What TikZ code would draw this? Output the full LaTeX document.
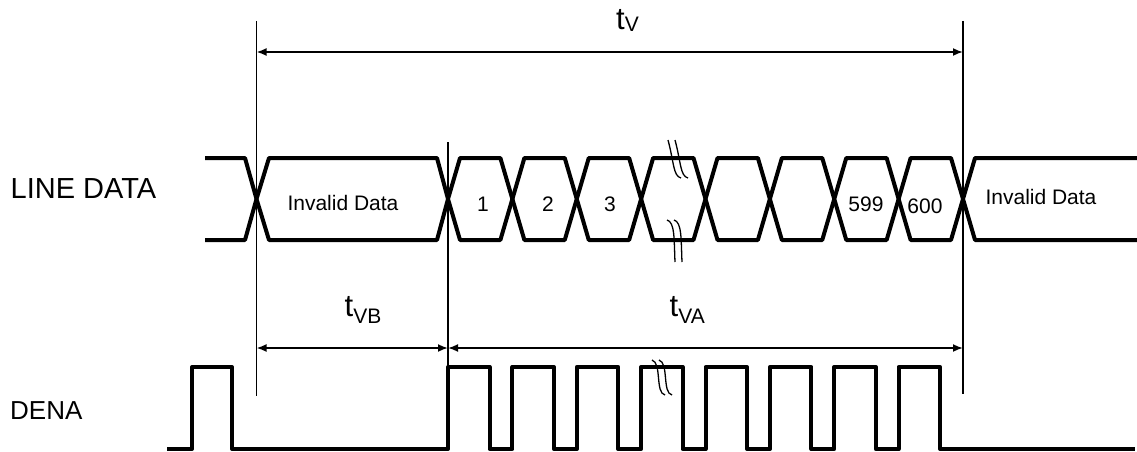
\documentclass[tikz,border=0pt]{standalone}
\usepackage{fontspec}
\setmainfont{Liberation Sans}
\usetikzlibrary{arrows.meta}
\begin{document}
\begin{tikzpicture}[x=1pt,y=-1pt,
  sig/.style={line width=4pt, line join=round},
  guide/.style={line width=1.6pt},
  dimarrow/.style={line width=1.8pt, {Latex[length=10pt,width=8pt]}-{Latex[length=10pt,width=8pt]}},
  brk/.style={line width=1.3pt},
  lbl/.style={inner sep=0pt, anchor=base, font=\fontsize{21}{24}\selectfont},
  signame/.style={inner sep=0pt, anchor=base west},
  tlabel/.style={inner sep=0pt, anchor=base west}]
\useasboundingbox (0,0) rectangle (1137,452);

% signal names
\node[signame] (linedata) at (10.5,198) {\fontsize{29}{33}\selectfont LINE DATA};
\node[signame] (dena) at (10,419) {\fontsize{26}{30}\selectfont DENA};

% guide lines
\coordinate (g1t) at (256.5,21);  \coordinate (g1b) at (256.5,396);
\coordinate (g2t) at (448,142);   \coordinate (g2b) at (448,367);
\coordinate (g3t) at (963,21);    \coordinate (g3b) at (963,394);
\draw[guide] (g1t) -- (g1b);
\draw[guide] (g2t) -- (g2b);
\draw[guide] (g3t) -- (g3b);

% dimension arrows
\coordinate (a1) at (256.5,52); \coordinate (a2) at (963,52);
\coordinate (b1) at (256.5,348); \coordinate (b2) at (448,348); \coordinate (b3) at (963,348);
\draw[dimarrow] (a1) -- (a2);
\draw[dimarrow] (b1) -- (b2);
\draw[dimarrow] (b2) -- (b3);

\node[tlabel] (tv) at (616,30) {\fontsize{31}{34}\selectfont t\raisebox{-2pt}{\fontsize{21}{24}\selectfont V}};
\node[tlabel] (tvb) at (344.5,316) {\fontsize{31}{34}\selectfont t\raisebox{-7pt}{\fontsize{21}{24}\selectfont VB}};
\node[tlabel] (tva) at (669.5,316) {\fontsize{31}{34}\selectfont t\raisebox{-7pt}{\fontsize{21}{24}\selectfont VA}};

% LINE DATA waveform
\draw[sig] (205,158) -- (245,158) -- (256.5,199) -- (245,240) -- (205,240);
\draw[sig] (256.5,199) -- (269,158) -- (437,158) -- (448,199) -- (437,240) -- (269,240) -- cycle;
\foreach \k in {0,...,7} {
  \pgfmathsetmacro{\xa}{448+64.375*\k}
  \pgfmathsetmacro{\xb}{448+64.375*(\k+1)}
  \draw[sig] (\xa,199) -- ({\xa+12},158) -- ({\xb-12},158) -- (\xb,199) -- ({\xb-12},240) -- ({\xa+12},240) -- cycle;
}
\draw[sig] (1137,158) -- (975,158) -- (963,199) -- (975,240) -- (1137,240);

\node[lbl] (inv1) at (343,210) {Invalid Data};
\node[lbl] (d1) at (483,211) {1};
\node[lbl] (d2) at (548,211) {2};
\node[lbl] (d3) at (610,211) {3};
\node[lbl] (d599) at (866,211) {599};
\node[lbl] (d600) at (925,213) {600};
\node[lbl] (inv2) at (1041,204) {Invalid Data};

% DENA waveform
\draw[sig] (167,449) -- (192,449) -- (192,367) -- (232,367) -- (232,449) -- (448,449)
  \foreach \k in {0,...,7} {
    -- ({448+64.375*\k},449) -- ({448+64.375*\k},367) -- ({489.5+64.375*\k},367) -- ({489.5+64.375*\k},449)
  } -- (1135,449);

% break marks
\foreach \dx in {0,7} {
  \draw[brk] ({668+\dx},140) .. controls ({674+\dx},162) and ({673+\dx},176) .. ({681+\dx},178);
  \draw[brk] ({667+\dx},220) .. controls ({675+\dx},222) and ({674+\dx},240) .. ({675+\dx},262);
  \draw[brk] ({652+\dx},360) .. controls ({662+\dx},363) and ({655+\dx},393) .. ({665+\dx},395);
}
\end{tikzpicture}
\end{document}
